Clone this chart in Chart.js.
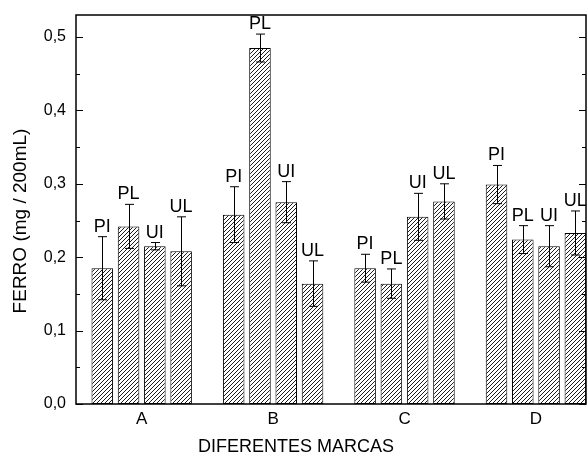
<!DOCTYPE html>
<html><head><meta charset="utf-8">
<script src="https://cdn.jsdelivr.net/npm/chart.js@4"></script>
<style>html,body{margin:0;padding:0;background:#fff;overflow:hidden}</style>
</head><body>
<canvas id="c" width="588" height="457" style="display:block"></canvas>
<script>
// ---- data ----
const categories = ['A', 'B', 'C', 'D'];
const seriesNames = ['PI', 'PL', 'UI', 'UL'];
const PI = [0.185, 0.258, 0.185, 0.299];
const PL = [0.242, 0.485, 0.164, 0.224];
const UI = [0.215, 0.275, 0.255, 0.215];
const UL = [0.208, 0.164, 0.276, 0.233];
const PI_err = [0.043, 0.038, 0.019, 0.026];
const PL_err = [0.030, 0.019, 0.020, 0.019];
const UI_err = [0.005, 0.028, 0.032, 0.028];
const UL_err = [0.047, 0.031, 0.024, 0.030];
const yTickValues = [0, 0.1, 0.2, 0.3, 0.4, 0.5];
const xTitle = 'DIFERENTES MARCAS';
const yTitle = 'FERRO (mg / 200mL)';

const FONT = '"Liberation Sans", Arial, sans-serif';

function hatch() {
  const p = document.createElement('canvas');
  p.width = 4; p.height = 4;
  const g = p.getContext('2d');
  g.fillStyle = '#fff'; g.fillRect(0, 0, 4, 4);
  g.strokeStyle = '#111'; g.lineWidth = 0.95;
  g.beginPath();
  g.moveTo(-1, 5); g.lineTo(5, -1);
  g.moveTo(-1, 1); g.lineTo(1, -1);
  g.moveTo(3, 5); g.lineTo(5, 3);
  g.stroke();
  return g.createPattern(p, 'repeat');
}
const pattern = hatch();

const values = [PI, PL, UI, UL];
const errs = [PI_err, PL_err, UI_err, UL_err];
const datasets = seriesNames.map((name, s) => ({
  label: name,
  data: categories.map((c, i) => ({ x: i + 1, y: values[s][i] })),
  errors: errs[s],
  backgroundColor: pattern,
  borderColor: '#000',
  borderWidth: 1,
  borderSkipped: false,
  categoryPercentage: 0.8,
  barPercentage: 0.82
}));

const decor = {
  id: 'decor',
  afterDatasetsDraw(chart) {
    const ctx = chart.ctx, y = chart.scales.y;
    chart.data.datasets.forEach((ds, di) => {
      const meta = chart.getDatasetMeta(di);
      meta.data.forEach((bar, i) => {
        const v = ds.data[i].y, e = ds.errors[i];
        const yt = y.getPixelForValue(v + e), yb = y.getPixelForValue(v - e);
        const x = Math.round(bar.x) + 0.5;
        ctx.save();
        ctx.strokeStyle = '#000'; ctx.lineWidth = 1;
        ctx.beginPath();
        ctx.moveTo(x, yt); ctx.lineTo(x, yb);
        ctx.moveTo(x - 4.5, yt); ctx.lineTo(x + 4.5, yt);
        ctx.moveTo(x - 4.5, yb); ctx.lineTo(x + 4.5, yb);
        ctx.stroke();
        ctx.font = '18px ' + FONT;
        ctx.textAlign = 'center'; ctx.textBaseline = 'alphabetic';
        ctx.fillStyle = '#000';
        ctx.fillText(ds.label, bar.x, yt - 5);
        ctx.restore();
      });
    });
  },
  afterDraw(chart) {
    const ctx = chart.ctx, y = chart.scales.y;
    const { left, right, top, bottom } = chart.chartArea;
    ctx.save();
    ctx.strokeStyle = '#000'; ctx.lineWidth = 1.5;
    ctx.strokeRect(left, top, right - left, bottom - top);
    ctx.lineWidth = 1;
    ctx.beginPath();
    yTickValues.forEach(v => {
      const py = Math.round(y.getPixelForValue(v)) + 0.5;
      ctx.moveTo(left, py); ctx.lineTo(left + 7, py);
      ctx.moveTo(right, py); ctx.lineTo(right - 7, py);
      const mv = v + 0.05;
      if (mv < y.max) {
        const pm = Math.round(y.getPixelForValue(mv)) + 0.5;
        ctx.moveTo(left, pm); ctx.lineTo(left + 4, pm);
        ctx.moveTo(right, pm); ctx.lineTo(right - 4, pm);
      }
    });
    ctx.stroke();
    ctx.fillStyle = '#000';
    ctx.font = '18px ' + FONT;
    ctx.textAlign = 'center'; ctx.textBaseline = 'middle';
    ctx.fillText(xTitle, 296, 447);
    ctx.font = '19px ' + FONT;
    ctx.translate(21, 221);
    ctx.rotate(-Math.PI / 2);
    ctx.fillText(yTitle, 0, 0);
    ctx.restore();
  }
};

new Chart(document.getElementById('c'), {
  type: 'bar',
  data: { datasets },
  options: {
    responsive: false,
    animation: false,
    devicePixelRatio: 1,
    layout: { padding: { left: 0, top: 15, right: 2, bottom: 0 } },
    plugins: { legend: { display: false }, tooltip: { enabled: false } },
    scales: {
      x: {
        type: 'linear',
        min: 0.5, max: 4.381,
        offset: false,
        grid: { display: false, offset: false },
        border: { display: false },
        afterBuildTicks: s => { s.ticks = categories.map((c, i) => ({ value: i + 1 })); },
        afterFit: s => { s.height = 53; },
        ticks: {
          autoSkip: false, maxRotation: 0, padding: -3,
          color: '#000', font: { family: FONT, size: 17 },
          callback: v => categories[Math.round(v) - 1]
        }
      },
      y: {
        min: 0, max: 0.53,
        grid: { display: false },
        border: { display: false },
        afterBuildTicks: s => { s.ticks = yTickValues.map(v => ({ value: v })); },
        afterFit: s => { s.width = 76; },
        ticks: {
          padding: 2, color: '#000', font: { family: FONT, size: 16 },
          callback: v => v.toFixed(1).replace('.', ',')
        }
      }
    }
  },
  plugins: [decor]
});
</script>
</body></html>
